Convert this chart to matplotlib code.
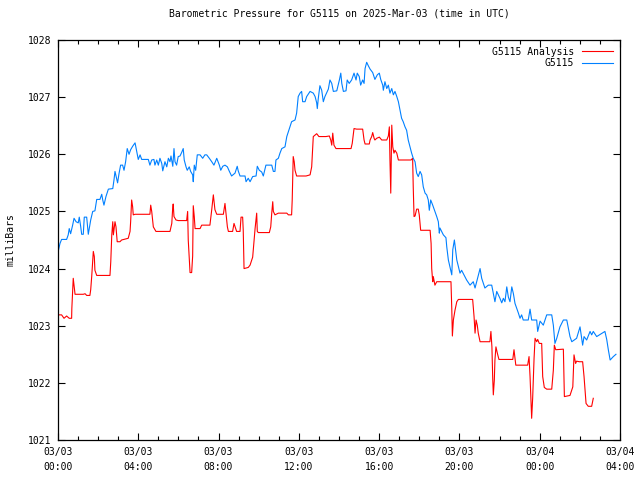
import matplotlib
matplotlib.use('Agg')
import matplotlib.pyplot as plt
from matplotlib.ticker import MultipleLocator

# time in hours since 2025-03-03 00:00 UTC, pressure in mb
obs_hours = [0.01, 0.10, 0.18, 0.43, 0.51, 0.56, 0.63, 0.73, 0.80, 0.90, 1.01, 1.06, 1.13, 1.18, 1.26, 1.31,
             1.43, 1.51, 1.56, 1.63, 1.73, 1.84, 1.93, 2.09, 2.18, 2.23, 2.29, 2.39, 2.51, 2.73, 2.79, 2.84,
             2.92, 2.97, 3.04, 3.12, 3.22, 3.29, 3.37, 3.45, 3.54, 3.62, 3.72, 3.84, 3.92, 4.00, 4.09, 4.17,
             4.50, 4.58, 4.67, 4.78, 4.83, 4.92, 5.00, 5.08, 5.17, 5.22, 5.33, 5.42, 5.50, 5.58, 5.63, 5.72,
             5.78, 5.83, 5.91, 5.99, 6.08, 6.16, 6.24, 6.29, 6.38, 6.44, 6.54, 6.61, 6.71, 6.74, 6.79, 6.86,
             6.94, 7.08, 7.21, 7.32, 7.41, 7.54, 7.66, 7.77, 7.91, 8.04, 8.11, 8.21, 8.32, 8.44, 8.54, 8.65,
             8.82, 8.93, 8.98, 9.07, 9.32, 9.37, 9.48, 9.57, 9.70, 9.87, 9.93, 10.03, 10.15, 10.23, 10.36,
             10.65, 10.73, 10.81, 10.86, 10.98, 11.06, 11.15, 11.31, 11.40, 11.56, 11.64, 11.81, 11.89, 11.97,
             12.06, 12.14, 12.19, 12.31, 12.39, 12.56, 12.72, 12.81, 12.89, 12.92, 12.97, 13.05, 13.14, 13.22,
             13.30, 13.47, 13.55, 13.64, 13.72, 13.89, 14.02, 14.09, 14.14, 14.22, 14.35, 14.41, 14.51, 14.63,
             14.75, 14.85, 14.91, 15.01, 15.08, 15.18, 15.25, 15.30, 15.38, 15.46, 15.55, 15.68, 15.79, 15.91,
             16.01, 16.08, 16.18, 16.21, 16.29, 16.38, 16.46, 16.54, 16.63, 16.71, 16.79, 16.88, 16.96, 17.04,
             17.12, 17.20, 17.29, 17.37, 17.45, 17.54, 17.62, 17.70, 17.79, 17.87, 17.95, 18.04, 18.12, 18.20,
             18.29, 18.37, 18.45, 18.50, 18.57, 18.67, 18.78, 18.87, 18.95, 19.00, 19.03, 19.20, 19.33, 19.37,
             19.45, 19.53, 19.62, 19.67, 19.75, 19.87, 20.03, 20.11, 20.36, 20.53, 20.69, 20.78, 21.03, 21.11,
             21.27, 21.44, 21.61, 21.77, 21.86, 22.02, 22.11, 22.19, 22.27, 22.36, 22.44, 22.52, 22.61, 22.69,
             22.77, 22.94, 23.02, 23.10, 23.18, 23.43, 23.52, 23.60, 23.85, 23.90, 24.02, 24.18, 24.35, 24.60,
             24.68, 24.76, 24.85, 25.01, 25.18, 25.35, 25.51, 25.60, 25.84, 26.01, 26.14, 26.21, 26.34, 26.51,
             26.59, 26.67, 26.84, 27.25, 27.34, 27.42, 27.51, 27.67, 27.80]
obs_mb = [1024.30, 1024.44, 1024.51, 1024.51, 1024.59, 1024.70, 1024.61, 1024.76, 1024.88, 1024.82, 1024.80,
          1024.90, 1024.74, 1024.60, 1024.60, 1024.90, 1024.90, 1024.60, 1024.70, 1024.85, 1025.00, 1025.01,
          1025.21, 1025.21, 1025.30, 1025.20, 1025.11, 1025.26, 1025.39, 1025.40, 1025.55, 1025.70, 1025.58,
          1025.50, 1025.66, 1025.81, 1025.81, 1025.72, 1025.87, 1026.10, 1026.00, 1026.08, 1026.14, 1026.20,
          1026.05, 1025.91, 1025.99, 1025.91, 1025.91, 1025.81, 1025.90, 1025.91, 1025.81, 1025.90, 1025.81,
          1025.93, 1025.84, 1025.71, 1025.87, 1025.78, 1025.93, 1025.87, 1025.97, 1025.79, 1026.10, 1025.87,
          1025.81, 1025.96, 1025.97, 1026.03, 1026.10, 1025.90, 1025.78, 1025.72, 1025.78, 1025.70, 1025.64,
          1025.52, 1025.81, 1025.72, 1025.99, 1025.99, 1025.93, 1025.99, 1025.99, 1025.93, 1025.87, 1025.81,
          1025.93, 1025.81, 1025.72, 1025.79, 1025.81, 1025.78, 1025.70, 1025.62, 1025.67, 1025.79, 1025.71,
          1025.62, 1025.62, 1025.52, 1025.58, 1025.52, 1025.61, 1025.62, 1025.79, 1025.72, 1025.69, 1025.62,
          1025.81, 1025.81, 1025.70, 1025.70, 1025.90, 1025.93, 1026.02, 1026.10, 1026.13, 1026.31, 1026.48,
          1026.57, 1026.60, 1026.72, 1027.01, 1027.07, 1027.10, 1026.92, 1026.92, 1027.01, 1027.10, 1027.07,
          1027.01, 1026.90, 1026.80, 1026.98, 1027.20, 1027.12, 1026.92, 1027.01, 1027.14, 1027.30, 1027.24,
          1027.10, 1027.11, 1027.30, 1027.42, 1027.24, 1027.10, 1027.11, 1027.30, 1027.24, 1027.30, 1027.42,
          1027.30, 1027.42, 1027.36, 1027.21, 1027.30, 1027.24, 1027.50, 1027.61, 1027.55, 1027.49, 1027.43,
          1027.31, 1027.39, 1027.42, 1027.31, 1027.21, 1027.12, 1027.27, 1027.15, 1027.21, 1027.07, 1027.15,
          1027.04, 1027.10, 1027.01, 1026.92, 1026.77, 1026.63, 1026.57, 1026.48, 1026.42, 1026.25, 1026.13,
          1026.02, 1025.93, 1025.87, 1025.67, 1025.61, 1025.70, 1025.64, 1025.43, 1025.32, 1025.29, 1025.20,
          1025.02, 1025.20, 1025.11, 1025.00, 1024.91, 1024.82, 1024.62, 1024.71, 1024.59, 1024.54, 1024.38,
          1024.15, 1024.03, 1023.89, 1024.33, 1024.50, 1024.15, 1023.92, 1023.97, 1023.80, 1023.71, 1023.77,
          1023.66, 1024.00, 1023.83, 1023.66, 1023.71, 1023.71, 1023.42, 1023.60, 1023.48, 1023.40, 1023.48,
          1023.42, 1023.68, 1023.50, 1023.42, 1023.68, 1023.56, 1023.39, 1023.22, 1023.13, 1023.19, 1023.10,
          1023.10, 1023.29, 1023.10, 1023.10, 1022.90, 1023.08, 1023.01, 1023.19, 1023.19, 1023.01, 1022.69,
          1022.78, 1022.98, 1023.10, 1023.10, 1022.81, 1022.72, 1022.78, 1022.98, 1022.66, 1022.81, 1022.75,
          1022.90, 1022.84, 1022.90, 1022.81, 1022.90, 1022.76, 1022.58, 1022.40, 1022.46, 1022.50]

ana_hours = [0.01, 0.18, 0.30, 0.43, 0.56, 0.68, 0.69, 0.76, 0.81, 0.85, 1.26, 1.35, 1.43, 1.59, 1.63, 1.68,
             1.76, 1.81, 1.84, 1.93, 2.59, 2.63, 2.68, 2.73, 2.76, 2.84, 2.89, 2.95, 3.09, 3.17, 3.50, 3.59,
             3.62, 3.67, 3.72, 3.75, 3.84, 4.58, 4.62, 4.67, 4.75, 4.88, 5.58, 5.67, 5.71, 5.74, 5.78, 5.88,
             5.99, 6.41, 6.46, 6.49, 6.58, 6.66, 6.71, 6.74, 6.79, 6.83, 7.08, 7.16, 7.57, 7.66, 7.74, 7.82,
             7.91, 8.24, 8.32, 8.37, 8.44, 8.49, 8.70, 8.77, 8.90, 9.07, 9.12, 9.20, 9.23, 9.27, 9.48, 9.57,
             9.70, 9.77, 9.82, 9.87, 9.90, 9.93, 9.98, 10.53, 10.60, 10.65, 10.70, 10.73, 10.81, 10.98, 11.40,
             11.48, 11.64, 11.67, 11.72, 11.77, 11.81, 11.89, 12.36, 12.56, 12.64, 12.72, 12.89, 13.00, 13.35,
             13.52, 13.59, 13.64, 13.69, 13.75, 13.85, 14.60, 14.66, 14.75, 14.88, 15.18, 15.25, 15.30, 15.51,
             15.55, 15.63, 15.68, 15.75, 15.79, 15.88, 16.01, 16.13, 16.38, 16.46, 16.51, 16.54, 16.58, 16.63,
             16.68, 16.74, 16.79, 16.88, 16.96, 17.59, 17.67, 17.70, 17.74, 17.79, 17.87, 17.95, 18.00, 18.07,
             18.54, 18.59, 18.62, 18.67, 18.70, 18.78, 18.87, 19.58, 19.62, 19.65, 19.70, 19.78, 19.87, 19.95,
             20.66, 20.73, 20.78, 20.83, 20.89, 20.94, 21.03, 21.52, 21.57, 21.62, 21.66, 21.69, 21.74, 21.77,
             21.82, 21.89, 21.97, 22.66, 22.72, 22.81, 23.40, 23.47, 23.52, 23.60, 23.65, 23.72, 23.77, 23.85,
             23.90, 23.98, 24.10, 24.15, 24.23, 24.35, 24.60, 24.68, 24.73, 24.80, 25.18, 25.23, 25.51, 25.65,
             25.71, 25.79, 25.84, 25.97, 26.14, 26.21, 26.31, 26.42, 26.59, 26.67]
ana_mb = [1023.19, 1023.19, 1023.13, 1023.17, 1023.13, 1023.13, 1023.30, 1023.83, 1023.68, 1023.55, 1023.55,
          1023.56, 1023.53, 1023.53, 1023.63, 1023.86, 1024.30, 1024.21, 1023.97, 1023.88, 1023.88, 1024.12,
          1024.59, 1024.82, 1024.59, 1024.82, 1024.73, 1024.47, 1024.47, 1024.50, 1024.53, 1024.65, 1024.82,
          1025.20, 1025.08, 1024.94, 1024.95, 1024.95, 1025.11, 1025.00, 1024.73, 1024.65, 1024.65, 1024.79,
          1025.03, 1025.13, 1024.91, 1024.85, 1024.84, 1024.84, 1025.00, 1024.50, 1023.93, 1023.93, 1024.22,
          1025.10, 1024.91, 1024.70, 1024.70, 1024.76, 1024.76, 1025.03, 1025.29, 1025.03, 1024.95, 1024.95,
          1025.14, 1024.97, 1024.73, 1024.65, 1024.65, 1024.79, 1024.65, 1024.65, 1024.90, 1024.90, 1024.67,
          1024.00, 1024.02, 1024.06, 1024.20, 1024.50, 1024.70, 1024.88, 1024.97, 1024.65, 1024.63, 1024.63,
          1024.73, 1024.97, 1025.17, 1025.00, 1024.94, 1024.97, 1024.97, 1024.94, 1024.94, 1025.20, 1025.96,
          1025.87, 1025.72, 1025.62, 1025.62, 1025.64, 1025.78, 1026.31, 1026.36, 1026.31, 1026.31, 1026.32,
          1026.25, 1026.16, 1026.37, 1026.16, 1026.10, 1026.10, 1026.19, 1026.45, 1026.44, 1026.44, 1026.25,
          1026.18, 1026.18, 1026.25, 1026.31, 1026.38, 1026.28, 1026.25, 1026.28, 1026.30, 1026.25, 1026.25,
          1026.32, 1026.48, 1025.90, 1025.32, 1026.51, 1026.13, 1026.02, 1026.07, 1026.02, 1025.90, 1025.90,
          1025.93, 1025.43, 1024.91, 1024.92, 1025.04, 1025.04, 1024.94, 1024.67, 1024.67, 1024.44, 1024.00,
          1023.77, 1023.86, 1023.71, 1023.77, 1023.77, 1023.30, 1022.82, 1023.10, 1023.27, 1023.42, 1023.46,
          1023.46, 1023.16, 1022.87, 1023.10, 1023.01, 1022.87, 1022.72, 1022.72, 1022.90, 1022.63, 1022.08,
          1021.79, 1022.05, 1022.40, 1022.63, 1022.52, 1022.41, 1022.41, 1022.58, 1022.31, 1022.31, 1022.46,
          1022.11, 1021.38, 1021.73, 1022.43, 1022.78, 1022.72, 1022.76, 1022.69, 1022.69, 1022.11, 1021.92,
          1021.89, 1021.89, 1022.22, 1022.66, 1022.58, 1022.59, 1021.76, 1021.78, 1021.93, 1022.49, 1022.34,
          1022.38, 1022.37, 1022.37, 1022.11, 1021.64, 1021.59, 1021.59, 1021.73]

tick_hours = [0, 4, 8, 12, 16, 20, 24, 28]
tick_labels = ['03/03\n00:00', '03/03\n04:00', '03/03\n08:00', '03/03\n12:00',
               '03/03\n16:00', '03/03\n20:00', '03/04\n00:00', '03/04\n04:00']

plt.rcParams['font.family'] = 'DejaVu Sans Mono'
plt.rcParams['font.size'] = 7

fig = plt.figure(figsize=(6.4, 4.8), dpi=100)
ax = fig.add_axes([0.0906, 0.0833, 0.8781, 0.8334])

ax.plot(ana_hours, ana_mb, color='#ff0000', lw=0.8, label='G5115 Analysis')
ax.plot(obs_hours, obs_mb, color='#0080ff', lw=0.8, label='G5115')

ax.set_xlim(0, 28)
ax.set_ylim(1021, 1028)
ax.set_xticks(tick_hours)
ax.set_xticklabels(tick_labels, linespacing=1.6)
ax.xaxis.set_minor_locator(MultipleLocator(1))
ax.yaxis.set_major_locator(MultipleLocator(1))
ax.yaxis.set_major_formatter(plt.FormatStrFormatter('%d'))
ax.tick_params(which='both', direction='in', top=True, right=True, color='black', width=0.8)
ax.tick_params(which='major', length=5, pad=5)
ax.tick_params(which='minor', length=3)
for s in ax.spines.values():
    s.set_linewidth(0.9)

ax.set_ylabel('milliBars', labelpad=9)
ax.set_title('Barometric Pressure for G5115 on 2025-Mar-03 (time in UTC)', fontsize=7, pad=17)

ax.legend(loc='upper right', frameon=False, markerfirst=False, handlelength=3.2,
          borderaxespad=0.3, labelspacing=0.15, handletextpad=0.8)

fig.savefig('out.png', dpi=100)
